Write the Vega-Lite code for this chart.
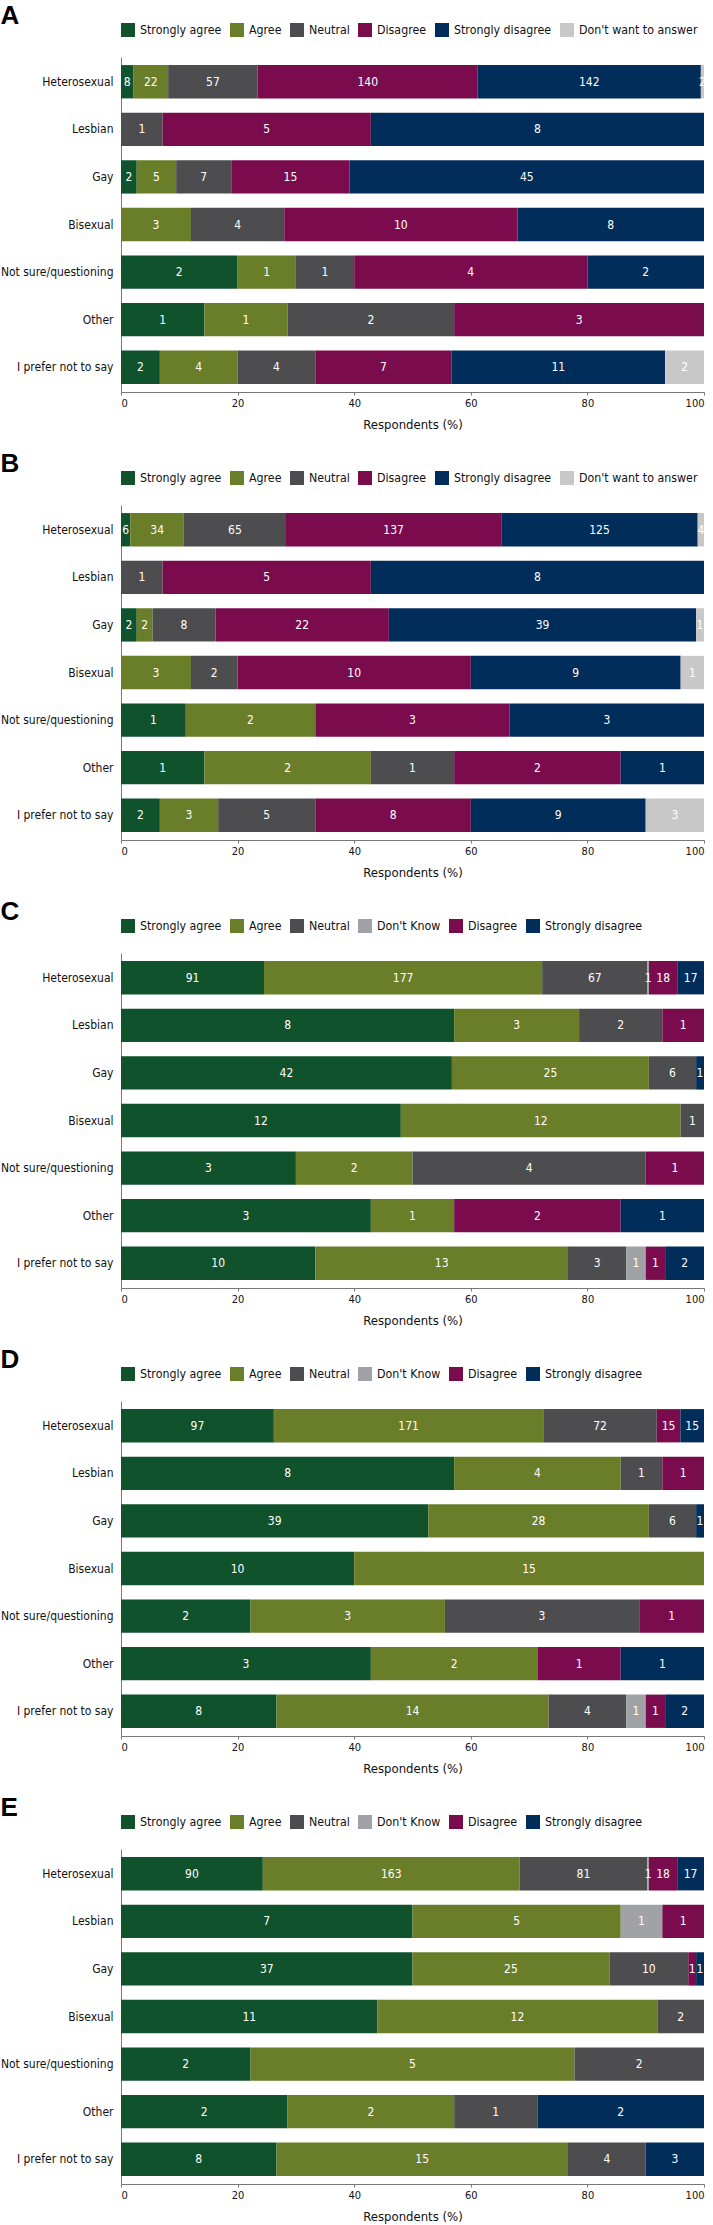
{
  "$schema": "https://vega.github.io/schema/vega-lite/v6.json",
  "padding": {"left": 0, "top": 3, "right": 9, "bottom": 2},
  "spacing": 20,
  "config": {
    "view": {"stroke": null},
    "font": "DejaVu Sans Condensed, sans-serif",
    "title": {"font": "Liberation Sans, Arial, sans-serif", "fontSize": 26, "fontWeight": "bold", "anchor": "start", "offset": -6, "color": "#000"},
    "axis": {"labelFont": "DejaVu Sans Condensed, sans-serif", "titleFont": "DejaVu Sans Condensed, sans-serif", "domainColor": "#777", "tickColor": "#777", "labelColor": "#111", "titleColor": "#111"},
    "legend": {"labelFont": "DejaVu Sans Condensed, sans-serif", "labelFontSize": 12.3, "labelColor": "#111", "orient": "none", "legendX": 0, "legendY": -34, "direction": "horizontal", "symbolType": "square", "symbolSize": 196, "symbolStrokeWidth": 0, "symbolOpacity": 1, "title": null, "columnPadding": 8, "labelOffset": 5, "padding": 0}
  },
  "datasets": {
    "d": [
      {"p":"A","g":"Heterosexual","r":"Strongly agree","k":1,"n":8},
      {"p":"A","g":"Heterosexual","r":"Agree","k":2,"n":22},
      {"p":"A","g":"Heterosexual","r":"Neutral","k":3,"n":57},
      {"p":"A","g":"Heterosexual","r":"Disagree","k":4,"n":140},
      {"p":"A","g":"Heterosexual","r":"Strongly disagree","k":5,"n":142},
      {"p":"A","g":"Heterosexual","r":"Don't want to answer","k":6,"n":2},
      {"p":"A","g":"Lesbian","r":"Neutral","k":3,"n":1},
      {"p":"A","g":"Lesbian","r":"Disagree","k":4,"n":5},
      {"p":"A","g":"Lesbian","r":"Strongly disagree","k":5,"n":8},
      {"p":"A","g":"Gay","r":"Strongly agree","k":1,"n":2},
      {"p":"A","g":"Gay","r":"Agree","k":2,"n":5},
      {"p":"A","g":"Gay","r":"Neutral","k":3,"n":7},
      {"p":"A","g":"Gay","r":"Disagree","k":4,"n":15},
      {"p":"A","g":"Gay","r":"Strongly disagree","k":5,"n":45},
      {"p":"A","g":"Bisexual","r":"Agree","k":2,"n":3},
      {"p":"A","g":"Bisexual","r":"Neutral","k":3,"n":4},
      {"p":"A","g":"Bisexual","r":"Disagree","k":4,"n":10},
      {"p":"A","g":"Bisexual","r":"Strongly disagree","k":5,"n":8},
      {"p":"A","g":"Not sure/questioning","r":"Strongly agree","k":1,"n":2},
      {"p":"A","g":"Not sure/questioning","r":"Agree","k":2,"n":1},
      {"p":"A","g":"Not sure/questioning","r":"Neutral","k":3,"n":1},
      {"p":"A","g":"Not sure/questioning","r":"Disagree","k":4,"n":4},
      {"p":"A","g":"Not sure/questioning","r":"Strongly disagree","k":5,"n":2},
      {"p":"A","g":"Other","r":"Strongly agree","k":1,"n":1},
      {"p":"A","g":"Other","r":"Agree","k":2,"n":1},
      {"p":"A","g":"Other","r":"Neutral","k":3,"n":2},
      {"p":"A","g":"Other","r":"Disagree","k":4,"n":3},
      {"p":"A","g":"I prefer not to say","r":"Strongly agree","k":1,"n":2},
      {"p":"A","g":"I prefer not to say","r":"Agree","k":2,"n":4},
      {"p":"A","g":"I prefer not to say","r":"Neutral","k":3,"n":4},
      {"p":"A","g":"I prefer not to say","r":"Disagree","k":4,"n":7},
      {"p":"A","g":"I prefer not to say","r":"Strongly disagree","k":5,"n":11},
      {"p":"A","g":"I prefer not to say","r":"Don't want to answer","k":6,"n":2},

      {"p":"B","g":"Heterosexual","r":"Strongly agree","k":1,"n":6},
      {"p":"B","g":"Heterosexual","r":"Agree","k":2,"n":34},
      {"p":"B","g":"Heterosexual","r":"Neutral","k":3,"n":65},
      {"p":"B","g":"Heterosexual","r":"Disagree","k":4,"n":137},
      {"p":"B","g":"Heterosexual","r":"Strongly disagree","k":5,"n":125},
      {"p":"B","g":"Heterosexual","r":"Don't want to answer","k":6,"n":4},
      {"p":"B","g":"Lesbian","r":"Neutral","k":3,"n":1},
      {"p":"B","g":"Lesbian","r":"Disagree","k":4,"n":5},
      {"p":"B","g":"Lesbian","r":"Strongly disagree","k":5,"n":8},
      {"p":"B","g":"Gay","r":"Strongly agree","k":1,"n":2},
      {"p":"B","g":"Gay","r":"Agree","k":2,"n":2},
      {"p":"B","g":"Gay","r":"Neutral","k":3,"n":8},
      {"p":"B","g":"Gay","r":"Disagree","k":4,"n":22},
      {"p":"B","g":"Gay","r":"Strongly disagree","k":5,"n":39},
      {"p":"B","g":"Gay","r":"Don't want to answer","k":6,"n":1},
      {"p":"B","g":"Bisexual","r":"Agree","k":2,"n":3},
      {"p":"B","g":"Bisexual","r":"Neutral","k":3,"n":2},
      {"p":"B","g":"Bisexual","r":"Disagree","k":4,"n":10},
      {"p":"B","g":"Bisexual","r":"Strongly disagree","k":5,"n":9},
      {"p":"B","g":"Bisexual","r":"Don't want to answer","k":6,"n":1},
      {"p":"B","g":"Not sure/questioning","r":"Strongly agree","k":1,"n":1},
      {"p":"B","g":"Not sure/questioning","r":"Agree","k":2,"n":2},
      {"p":"B","g":"Not sure/questioning","r":"Disagree","k":4,"n":3},
      {"p":"B","g":"Not sure/questioning","r":"Strongly disagree","k":5,"n":3},
      {"p":"B","g":"Other","r":"Strongly agree","k":1,"n":1},
      {"p":"B","g":"Other","r":"Agree","k":2,"n":2},
      {"p":"B","g":"Other","r":"Neutral","k":3,"n":1},
      {"p":"B","g":"Other","r":"Disagree","k":4,"n":2},
      {"p":"B","g":"Other","r":"Strongly disagree","k":5,"n":1},
      {"p":"B","g":"I prefer not to say","r":"Strongly agree","k":1,"n":2},
      {"p":"B","g":"I prefer not to say","r":"Agree","k":2,"n":3},
      {"p":"B","g":"I prefer not to say","r":"Neutral","k":3,"n":5},
      {"p":"B","g":"I prefer not to say","r":"Disagree","k":4,"n":8},
      {"p":"B","g":"I prefer not to say","r":"Strongly disagree","k":5,"n":9},
      {"p":"B","g":"I prefer not to say","r":"Don't want to answer","k":6,"n":3},

      {"p":"C","g":"Heterosexual","r":"Strongly agree","k":1,"n":91},
      {"p":"C","g":"Heterosexual","r":"Agree","k":2,"n":177},
      {"p":"C","g":"Heterosexual","r":"Neutral","k":3,"n":67},
      {"p":"C","g":"Heterosexual","r":"Don't Know","k":4,"n":1},
      {"p":"C","g":"Heterosexual","r":"Disagree","k":5,"n":18},
      {"p":"C","g":"Heterosexual","r":"Strongly disagree","k":6,"n":17},
      {"p":"C","g":"Lesbian","r":"Strongly agree","k":1,"n":8},
      {"p":"C","g":"Lesbian","r":"Agree","k":2,"n":3},
      {"p":"C","g":"Lesbian","r":"Neutral","k":3,"n":2},
      {"p":"C","g":"Lesbian","r":"Disagree","k":5,"n":1},
      {"p":"C","g":"Gay","r":"Strongly agree","k":1,"n":42},
      {"p":"C","g":"Gay","r":"Agree","k":2,"n":25},
      {"p":"C","g":"Gay","r":"Neutral","k":3,"n":6},
      {"p":"C","g":"Gay","r":"Strongly disagree","k":6,"n":1},
      {"p":"C","g":"Bisexual","r":"Strongly agree","k":1,"n":12},
      {"p":"C","g":"Bisexual","r":"Agree","k":2,"n":12},
      {"p":"C","g":"Bisexual","r":"Neutral","k":3,"n":1},
      {"p":"C","g":"Not sure/questioning","r":"Strongly agree","k":1,"n":3},
      {"p":"C","g":"Not sure/questioning","r":"Agree","k":2,"n":2},
      {"p":"C","g":"Not sure/questioning","r":"Neutral","k":3,"n":4},
      {"p":"C","g":"Not sure/questioning","r":"Disagree","k":5,"n":1},
      {"p":"C","g":"Other","r":"Strongly agree","k":1,"n":3},
      {"p":"C","g":"Other","r":"Agree","k":2,"n":1},
      {"p":"C","g":"Other","r":"Disagree","k":5,"n":2},
      {"p":"C","g":"Other","r":"Strongly disagree","k":6,"n":1},
      {"p":"C","g":"I prefer not to say","r":"Strongly agree","k":1,"n":10},
      {"p":"C","g":"I prefer not to say","r":"Agree","k":2,"n":13},
      {"p":"C","g":"I prefer not to say","r":"Neutral","k":3,"n":3},
      {"p":"C","g":"I prefer not to say","r":"Don't Know","k":4,"n":1},
      {"p":"C","g":"I prefer not to say","r":"Disagree","k":5,"n":1},
      {"p":"C","g":"I prefer not to say","r":"Strongly disagree","k":6,"n":2},

      {"p":"D","g":"Heterosexual","r":"Strongly agree","k":1,"n":97},
      {"p":"D","g":"Heterosexual","r":"Agree","k":2,"n":171},
      {"p":"D","g":"Heterosexual","r":"Neutral","k":3,"n":72},
      {"p":"D","g":"Heterosexual","r":"Disagree","k":5,"n":15},
      {"p":"D","g":"Heterosexual","r":"Strongly disagree","k":6,"n":15},
      {"p":"D","g":"Lesbian","r":"Strongly agree","k":1,"n":8},
      {"p":"D","g":"Lesbian","r":"Agree","k":2,"n":4},
      {"p":"D","g":"Lesbian","r":"Neutral","k":3,"n":1},
      {"p":"D","g":"Lesbian","r":"Disagree","k":5,"n":1},
      {"p":"D","g":"Gay","r":"Strongly agree","k":1,"n":39},
      {"p":"D","g":"Gay","r":"Agree","k":2,"n":28},
      {"p":"D","g":"Gay","r":"Neutral","k":3,"n":6},
      {"p":"D","g":"Gay","r":"Strongly disagree","k":6,"n":1},
      {"p":"D","g":"Bisexual","r":"Strongly agree","k":1,"n":10},
      {"p":"D","g":"Bisexual","r":"Agree","k":2,"n":15},
      {"p":"D","g":"Not sure/questioning","r":"Strongly agree","k":1,"n":2},
      {"p":"D","g":"Not sure/questioning","r":"Agree","k":2,"n":3},
      {"p":"D","g":"Not sure/questioning","r":"Neutral","k":3,"n":3},
      {"p":"D","g":"Not sure/questioning","r":"Disagree","k":5,"n":1},
      {"p":"D","g":"Other","r":"Strongly agree","k":1,"n":3},
      {"p":"D","g":"Other","r":"Agree","k":2,"n":2},
      {"p":"D","g":"Other","r":"Disagree","k":5,"n":1},
      {"p":"D","g":"Other","r":"Strongly disagree","k":6,"n":1},
      {"p":"D","g":"I prefer not to say","r":"Strongly agree","k":1,"n":8},
      {"p":"D","g":"I prefer not to say","r":"Agree","k":2,"n":14},
      {"p":"D","g":"I prefer not to say","r":"Neutral","k":3,"n":4},
      {"p":"D","g":"I prefer not to say","r":"Don't Know","k":4,"n":1},
      {"p":"D","g":"I prefer not to say","r":"Disagree","k":5,"n":1},
      {"p":"D","g":"I prefer not to say","r":"Strongly disagree","k":6,"n":2},

      {"p":"E","g":"Heterosexual","r":"Strongly agree","k":1,"n":90},
      {"p":"E","g":"Heterosexual","r":"Agree","k":2,"n":163},
      {"p":"E","g":"Heterosexual","r":"Neutral","k":3,"n":81},
      {"p":"E","g":"Heterosexual","r":"Don't Know","k":4,"n":1},
      {"p":"E","g":"Heterosexual","r":"Disagree","k":5,"n":18},
      {"p":"E","g":"Heterosexual","r":"Strongly disagree","k":6,"n":17},
      {"p":"E","g":"Lesbian","r":"Strongly agree","k":1,"n":7},
      {"p":"E","g":"Lesbian","r":"Agree","k":2,"n":5},
      {"p":"E","g":"Lesbian","r":"Don't Know","k":4,"n":1},
      {"p":"E","g":"Lesbian","r":"Disagree","k":5,"n":1},
      {"p":"E","g":"Gay","r":"Strongly agree","k":1,"n":37},
      {"p":"E","g":"Gay","r":"Agree","k":2,"n":25},
      {"p":"E","g":"Gay","r":"Neutral","k":3,"n":10},
      {"p":"E","g":"Gay","r":"Disagree","k":5,"n":1},
      {"p":"E","g":"Gay","r":"Strongly disagree","k":6,"n":1},
      {"p":"E","g":"Bisexual","r":"Strongly agree","k":1,"n":11},
      {"p":"E","g":"Bisexual","r":"Agree","k":2,"n":12},
      {"p":"E","g":"Bisexual","r":"Neutral","k":3,"n":2},
      {"p":"E","g":"Not sure/questioning","r":"Strongly agree","k":1,"n":2},
      {"p":"E","g":"Not sure/questioning","r":"Agree","k":2,"n":5},
      {"p":"E","g":"Not sure/questioning","r":"Neutral","k":3,"n":2},
      {"p":"E","g":"Other","r":"Strongly agree","k":1,"n":2},
      {"p":"E","g":"Other","r":"Agree","k":2,"n":2},
      {"p":"E","g":"Other","r":"Neutral","k":3,"n":1},
      {"p":"E","g":"Other","r":"Strongly disagree","k":6,"n":2},
      {"p":"E","g":"I prefer not to say","r":"Strongly agree","k":1,"n":8},
      {"p":"E","g":"I prefer not to say","r":"Agree","k":2,"n":15},
      {"p":"E","g":"I prefer not to say","r":"Neutral","k":3,"n":4},
      {"p":"E","g":"I prefer not to say","r":"Strongly disagree","k":6,"n":3}
    ]
  },
  "resolve": {"scale": {"color": "independent"}, "legend": {"color": "independent"}},
  "vconcat": [
    {
      "title": "A",
      "data": {"name": "d"},
      "transform": [{"filter": "datum.p == 'A'"}],
      "width": 583, "height": 335,
      "encoding": {
        "y": {"field": "g", "type": "nominal", "sort": ["Heterosexual","Lesbian","Gay","Bisexual","Not sure/questioning","Other","I prefer not to say"], "scale": {"paddingInner": 0.3, "paddingOuter": 0.17}, "axis": {"title": null, "ticks": false, "labelPadding": 8, "labelFontSize": 12, "labelLimit": 300}},
        "x": {"field": "n", "type": "quantitative", "stack": "normalize", "scale": {"domain": [0, 1]}, "axis": {"title": "Respondents (%)", "values": [0, 0.2, 0.4, 0.6, 0.8, 1], "labelExpr": "format(datum.value*100, 'd')", "grid": false, "tickSize": 3, "labelFontSize": 11, "titleFontSize": 13, "titleFontWeight": "normal", "titlePadding": 10}},
        "order": {"field": "k", "type": "quantitative"}
      },
      "layer": [
        {"mark": {"type": "bar"}, "encoding": {"color": {"field": "r", "type": "nominal", "scale": {"domain": ["Strongly agree","Agree","Neutral","Disagree","Strongly disagree","Don't want to answer"], "range": ["#10522b","#6a7d29","#4d4d4f","#7a0c4e","#002d5a","#c8c8c8"]}}}},
        {"mark": {"type": "text", "color": "white", "fontSize": 12}, "encoding": {"x": {"field": "n", "type": "quantitative", "stack": "normalize", "bandPosition": 0.5}, "text": {"field": "n", "type": "quantitative"}}}
      ]
    },
    {
      "title": "B",
      "data": {"name": "d"},
      "transform": [{"filter": "datum.p == 'B'"}],
      "width": 583, "height": 335,
      "encoding": {
        "y": {"field": "g", "type": "nominal", "sort": ["Heterosexual","Lesbian","Gay","Bisexual","Not sure/questioning","Other","I prefer not to say"], "scale": {"paddingInner": 0.3, "paddingOuter": 0.17}, "axis": {"title": null, "ticks": false, "labelPadding": 8, "labelFontSize": 12, "labelLimit": 300}},
        "x": {"field": "n", "type": "quantitative", "stack": "normalize", "scale": {"domain": [0, 1]}, "axis": {"title": "Respondents (%)", "values": [0, 0.2, 0.4, 0.6, 0.8, 1], "labelExpr": "format(datum.value*100, 'd')", "grid": false, "tickSize": 3, "labelFontSize": 11, "titleFontSize": 13, "titleFontWeight": "normal", "titlePadding": 10}},
        "order": {"field": "k", "type": "quantitative"}
      },
      "layer": [
        {"mark": {"type": "bar"}, "encoding": {"color": {"field": "r", "type": "nominal", "scale": {"domain": ["Strongly agree","Agree","Neutral","Disagree","Strongly disagree","Don't want to answer"], "range": ["#10522b","#6a7d29","#4d4d4f","#7a0c4e","#002d5a","#c8c8c8"]}}}},
        {"mark": {"type": "text", "color": "white", "fontSize": 12}, "encoding": {"x": {"field": "n", "type": "quantitative", "stack": "normalize", "bandPosition": 0.5}, "text": {"field": "n", "type": "quantitative"}}}
      ]
    },
    {
      "title": "C",
      "data": {"name": "d"},
      "transform": [{"filter": "datum.p == 'C'"}],
      "width": 583, "height": 335,
      "encoding": {
        "y": {"field": "g", "type": "nominal", "sort": ["Heterosexual","Lesbian","Gay","Bisexual","Not sure/questioning","Other","I prefer not to say"], "scale": {"paddingInner": 0.3, "paddingOuter": 0.17}, "axis": {"title": null, "ticks": false, "labelPadding": 8, "labelFontSize": 12, "labelLimit": 300}},
        "x": {"field": "n", "type": "quantitative", "stack": "normalize", "scale": {"domain": [0, 1]}, "axis": {"title": "Respondents (%)", "values": [0, 0.2, 0.4, 0.6, 0.8, 1], "labelExpr": "format(datum.value*100, 'd')", "grid": false, "tickSize": 3, "labelFontSize": 11, "titleFontSize": 13, "titleFontWeight": "normal", "titlePadding": 10}},
        "order": {"field": "k", "type": "quantitative"}
      },
      "layer": [
        {"mark": {"type": "bar"}, "encoding": {"color": {"field": "r", "type": "nominal", "scale": {"domain": ["Strongly agree","Agree","Neutral","Don't Know","Disagree","Strongly disagree"], "range": ["#10522b","#6a7d29","#4d4d4f","#a0a2a5","#7a0c4e","#002d5a"]}}}},
        {"mark": {"type": "text", "color": "white", "fontSize": 12}, "encoding": {"x": {"field": "n", "type": "quantitative", "stack": "normalize", "bandPosition": 0.5}, "text": {"field": "n", "type": "quantitative"}}}
      ]
    },
    {
      "title": "D",
      "data": {"name": "d"},
      "transform": [{"filter": "datum.p == 'D'"}],
      "width": 583, "height": 335,
      "encoding": {
        "y": {"field": "g", "type": "nominal", "sort": ["Heterosexual","Lesbian","Gay","Bisexual","Not sure/questioning","Other","I prefer not to say"], "scale": {"paddingInner": 0.3, "paddingOuter": 0.17}, "axis": {"title": null, "ticks": false, "labelPadding": 8, "labelFontSize": 12, "labelLimit": 300}},
        "x": {"field": "n", "type": "quantitative", "stack": "normalize", "scale": {"domain": [0, 1]}, "axis": {"title": "Respondents (%)", "values": [0, 0.2, 0.4, 0.6, 0.8, 1], "labelExpr": "format(datum.value*100, 'd')", "grid": false, "tickSize": 3, "labelFontSize": 11, "titleFontSize": 13, "titleFontWeight": "normal", "titlePadding": 10}},
        "order": {"field": "k", "type": "quantitative"}
      },
      "layer": [
        {"mark": {"type": "bar"}, "encoding": {"color": {"field": "r", "type": "nominal", "scale": {"domain": ["Strongly agree","Agree","Neutral","Don't Know","Disagree","Strongly disagree"], "range": ["#10522b","#6a7d29","#4d4d4f","#a0a2a5","#7a0c4e","#002d5a"]}}}},
        {"mark": {"type": "text", "color": "white", "fontSize": 12}, "encoding": {"x": {"field": "n", "type": "quantitative", "stack": "normalize", "bandPosition": 0.5}, "text": {"field": "n", "type": "quantitative"}}}
      ]
    },
    {
      "title": "E",
      "data": {"name": "d"},
      "transform": [{"filter": "datum.p == 'E'"}],
      "width": 583, "height": 335,
      "encoding": {
        "y": {"field": "g", "type": "nominal", "sort": ["Heterosexual","Lesbian","Gay","Bisexual","Not sure/questioning","Other","I prefer not to say"], "scale": {"paddingInner": 0.3, "paddingOuter": 0.17}, "axis": {"title": null, "ticks": false, "labelPadding": 8, "labelFontSize": 12, "labelLimit": 300}},
        "x": {"field": "n", "type": "quantitative", "stack": "normalize", "scale": {"domain": [0, 1]}, "axis": {"title": "Respondents (%)", "values": [0, 0.2, 0.4, 0.6, 0.8, 1], "labelExpr": "format(datum.value*100, 'd')", "grid": false, "tickSize": 3, "labelFontSize": 11, "titleFontSize": 13, "titleFontWeight": "normal", "titlePadding": 10}},
        "order": {"field": "k", "type": "quantitative"}
      },
      "layer": [
        {"mark": {"type": "bar"}, "encoding": {"color": {"field": "r", "type": "nominal", "scale": {"domain": ["Strongly agree","Agree","Neutral","Don't Know","Disagree","Strongly disagree"], "range": ["#10522b","#6a7d29","#4d4d4f","#a0a2a5","#7a0c4e","#002d5a"]}}}},
        {"mark": {"type": "text", "color": "white", "fontSize": 12}, "encoding": {"x": {"field": "n", "type": "quantitative", "stack": "normalize", "bandPosition": 0.5}, "text": {"field": "n", "type": "quantitative"}}}
      ]
    }
  ]
}
